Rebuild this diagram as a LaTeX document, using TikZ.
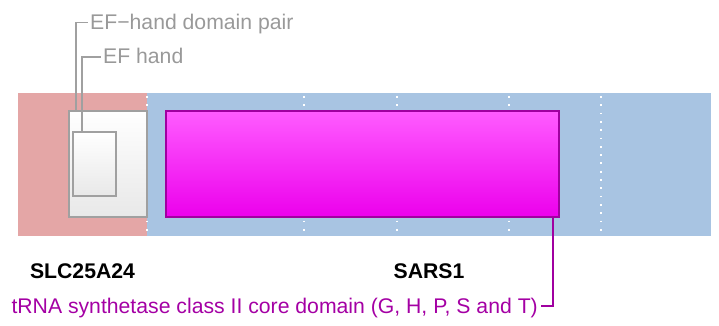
\documentclass[tikz,border=0pt]{standalone}
\usepackage{fontspec}
\setmainfont{Liberation Sans}
\definecolor{pinkband}{HTML}{E4A6A6}
\definecolor{blueband}{HTML}{A8C4E2}
\definecolor{greyline}{HTML}{A0A0A0}
\definecolor{greytext}{HTML}{999999}
\definecolor{magtop}{HTML}{FF5CFF}
\definecolor{magbot}{HTML}{EC00EC}
\definecolor{magedge}{HTML}{A000A0}
\definecolor{maglabel}{HTML}{A400A4}
\definecolor{boxbot}{HTML}{E8E8E8}
\begin{document}
\begin{tikzpicture}[x=1pt,y=-1pt,
  band/.style={draw=none,inner sep=0,minimum height=143pt},
  efbox/.style={draw=greyline,line width=1.6pt,top color=white,bottom color=boxbot,inner sep=0},
  dombox/.style={draw=magedge,line width=1.4pt,top color=magtop,bottom color=magbot,inner sep=0},
  sep/.style={white,line width=1.8pt,dash pattern=on 1.8pt off 6.5pt},
  glabel/.style={font=\fontsize{21.2}{25}\selectfont\bfseries,inner sep=0},
  flabel/.style={font=\fontsize{21.2}{25}\selectfont,text=greytext,inner sep=0},
  mlabel/.style={font=\fontsize{21.2}{25}\selectfont,text=maglabel,inner sep=0},
  gleader/.style={draw=greyline,line width=1.8pt},
  mleader/.style={draw=magedge,line width=1.6pt}]
\useasboundingbox (0,0) rectangle (719,326);
% bands
\node[band,fill=pinkband,minimum width=129pt] (slc) at (82.5,164.5) {};
\node[band,fill=blueband,minimum width=564pt] (sars) at (429,164.5) {};
% separators
\foreach \xx in {147,304,397,509,601}
  \draw[sep] (\xx,96) -- (\xx,236);
% EF-hand boxes
\node[efbox,minimum width=78pt,minimum height=106pt] (efpair) at (108,164) {};
\node[efbox,minimum width=43pt,minimum height=64pt] (efhand) at (94.5,164) {};
% tRNA domain
\node[dombox,minimum width=393pt,minimum height=106pt] (trna) at (362.5,164) {};
% gene labels
\node[glabel,anchor=base] (slclbl) at (82.5,278) {SLC25A24};
\node[glabel,anchor=base] (sarslbl) at (429,278) {SARS1};
% feature labels
\node[flabel,anchor=base west] (efpairlbl) at (90,30) {EF−hand domain pair};
\node[flabel,anchor=base west] (efhandlbl) at (103,64) {EF hand};
\node[mlabel,anchor=base east] (trnalbl) at (538,313) {tRNA synthetase class II core domain (G, H, P, S and T)};
% leaders
\draw[gleader] ([xshift=8pt]efpair.north west) |- ([shift={(-2pt,7.5pt)}]efpairlbl.base west);
\draw[gleader] ([xshift=10pt]efhand.north west) |- ([shift={(-2pt,7pt)}]efhandlbl.base west);
\draw[mleader] ([xshift=-7pt]trna.south east) |- ([shift={(3pt,7pt)}]trnalbl.base east);
\end{tikzpicture}
\end{document}
